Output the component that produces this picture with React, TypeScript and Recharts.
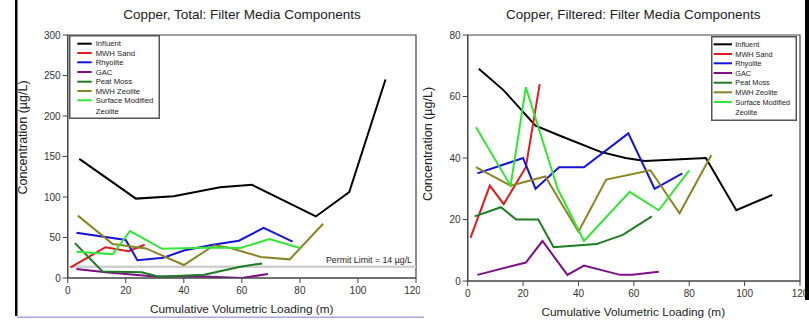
import React from 'react';
import { LineChart, Line, XAxis, YAxis, ReferenceLine, ReferenceArea, Legend } from 'recharts';

const FONT = '"Liberation Sans", Arial, sans-serif';

const X_TICKS = [0, 20, 40, 60, 80, 100, 120];
const TOTAL_Y_TICKS = [0, 50, 100, 150, 200, 250, 300];
const FILTERED_Y_TICKS = [0, 20, 40, 60, 80];

const SERIES_NAMES = ['Influent', 'MWH Sand', 'Rhyolite', 'GAC', 'Peat Moss', 'MWH Zeolite', 'Surface Modified Zeolite'];
const SERIES_COLORS = ['#000000', '#e01b1b', '#1414dc', '#7f0f86', '#1d7d22', '#8a8424', '#33e633'];

const PERMIT_LIMIT = 14;

// Copper, Total
const totalInfluent = [
  { x: 4, y: 147 }, { x: 23.5, y: 98 }, { x: 36.5, y: 101 }, { x: 52.5, y: 112 },
  { x: 63.5, y: 115 }, { x: 85.5, y: 76 }, { x: 97, y: 106 }, { x: 109.5, y: 245 },
];
const totalSand = [{ x: 1, y: 13 }, { x: 13, y: 38 }, { x: 21, y: 33 }, { x: 26.5, y: 41 }];
const totalRhyolite = [
  { x: 3, y: 56 }, { x: 20, y: 47 }, { x: 24, y: 22 }, { x: 33, y: 25 }, { x: 40, y: 34 },
  { x: 50, y: 41 }, { x: 59, y: 46 }, { x: 67.5, y: 62 }, { x: 77.5, y: 45 },
];
const totalGac = [
  { x: 3, y: 11 }, { x: 13, y: 7 }, { x: 30, y: 2 }, { x: 47, y: 2 }, { x: 60, y: 0 }, { x: 69, y: 5 },
];
const totalPeat = [
  { x: 2.5, y: 43 }, { x: 12, y: 8 }, { x: 25.5, y: 7 }, { x: 31.5, y: 1.5 }, { x: 47, y: 4 },
  { x: 59.5, y: 14 }, { x: 67, y: 18 },
];
const totalZeolite = [
  { x: 3.5, y: 77 }, { x: 15.5, y: 42 }, { x: 27, y: 36.5 }, { x: 40, y: 16 }, { x: 50.5, y: 40.5 },
  { x: 56, y: 37 }, { x: 66.5, y: 26 }, { x: 76.5, y: 23 }, { x: 88, y: 67 },
];
const totalSurface = [
  { x: 3, y: 32.5 }, { x: 15.5, y: 29.5 }, { x: 21.5, y: 58 }, { x: 32.5, y: 36 }, { x: 50, y: 37.5 },
  { x: 59.5, y: 37 }, { x: 69.5, y: 48 }, { x: 80, y: 37 },
];

// Copper, Filtered
const filtInfluent = [
  { x: 4, y: 69 }, { x: 13, y: 62 }, { x: 20, y: 55 }, { x: 24.5, y: 50.5 }, { x: 34, y: 47 },
  { x: 48, y: 42 }, { x: 57, y: 40 }, { x: 64, y: 39 }, { x: 86, y: 40 }, { x: 97, y: 23 }, { x: 110, y: 28 },
];
const filtSand = [{ x: 1, y: 14 }, { x: 8, y: 31 }, { x: 13, y: 25 }, { x: 21, y: 37 }, { x: 26, y: 64 }];
const filtRhyolite = [
  { x: 3.5, y: 35 }, { x: 20, y: 40 }, { x: 24.5, y: 30 }, { x: 33, y: 37 }, { x: 42, y: 37 },
  { x: 58, y: 48 }, { x: 67.5, y: 30 }, { x: 77.5, y: 35 },
];
const filtGac = [
  { x: 3.5, y: 2 }, { x: 21, y: 6 }, { x: 27, y: 13 }, { x: 36, y: 2 }, { x: 42, y: 5 },
  { x: 55, y: 2 }, { x: 59.5, y: 2 }, { x: 69, y: 3 },
];
const filtPeat = [
  { x: 2.5, y: 21 }, { x: 12, y: 24 }, { x: 17.5, y: 20 }, { x: 25.5, y: 20 }, { x: 31, y: 11 },
  { x: 46.5, y: 12 }, { x: 56, y: 15 }, { x: 66.5, y: 21 },
];
const filtZeolite = [
  { x: 3, y: 37 }, { x: 15.5, y: 31 }, { x: 28, y: 34 }, { x: 40, y: 16 }, { x: 50, y: 33 },
  { x: 66, y: 36 }, { x: 76.5, y: 22 }, { x: 88, y: 41 },
];
const filtSurface = [
  { x: 3, y: 50 }, { x: 15.5, y: 31 }, { x: 21, y: 63 }, { x: 32.5, y: 30 }, { x: 42, y: 13 },
  { x: 58.5, y: 29 }, { x: 69, y: 23 }, { x: 80, y: 36 },
];

const TOTAL_SERIES = [totalInfluent, totalSand, totalRhyolite, totalGac, totalPeat, totalZeolite, totalSurface];
const FILTERED_SERIES = [filtInfluent, filtSand, filtRhyolite, filtGac, filtPeat, filtZeolite, filtSurface];

type LegendCfg = {
  width: number; height: number; lineX1: number; lineX2: number; textX: number;
  rows: number[]; wrapY: number; fontSize: number;
};

const makeLegend = (cfg: LegendCfg) => (props: any) => {
  const payload: any[] = (props && props.payload) || [];
  const items = SERIES_NAMES.map((n, i) => {
    const found = payload.find((p: any) => String(p.value) === n);
    return { value: n, color: (found && found.color) || SERIES_COLORS[i] };
  });
  return (
    <svg width={cfg.width} height={cfg.height} style={{ display: 'block' }}>
      <rect x={0.75} y={0.75} width={cfg.width - 1.5} height={cfg.height - 1.5} fill="#fff" stroke="#555" strokeWidth={1.5} />
      {items.map((p, i) => {
        const y = cfg.rows[i];
        const wrap = p.value === 'Surface Modified Zeolite';
        return (
          <g key={p.value}>
            <line x1={cfg.lineX1} x2={cfg.lineX2} y1={y} y2={y} stroke={p.color} strokeWidth={2} />
            <text x={cfg.textX} y={y} dominantBaseline="central" fontSize={cfg.fontSize} fontFamily={FONT} fill="#222">
              {wrap ? 'Surface Modified' : p.value}
            </text>
            {wrap && (
              <text x={cfg.textX} y={cfg.wrapY} dominantBaseline="central" fontSize={cfg.fontSize} fontFamily={FONT} fill="#222">
                Zeolite
              </text>
            )}
          </g>
        );
      })}
    </svg>
  );
};

const leftLegend = makeLegend({
  width: 91, height: 84, lineX1: 8.3, lineX2: 22.7, textX: 26.7,
  rows: [8.7, 18, 27.3, 37, 46.7, 56, 65.3], wrapY: 76, fontSize: 7.7,
});
const rightLegend = makeLegend({
  width: 86, height: 85, lineX1: 2.6, lineX2: 21, textX: 24.3,
  rows: [8.3, 18, 27.3, 37, 46.7, 56.3, 66], wrapY: 76.3, fontSize: 7.3,
});

const tickStyle = { fontSize: 10, fill: '#333', fontFamily: FONT };
const AXIS_COLOR = '#444';

export default function App() {
  return (
    <div style={{ position: 'absolute', left: 0, top: 0, width: 809, height: 320, background: '#fff', overflow: 'hidden', fontFamily: FONT }}>
      {/* Left panel: Copper, Total */}
      <div style={{ position: 'absolute', left: 0, top: 0 }}>
        <LineChart width={420} height={320} margin={{ top: 35, right: 4, bottom: 12, left: 17.7 }}>
          <XAxis
            type="number" dataKey="x" domain={[0, 120]} ticks={X_TICKS} allowDataOverflow
            height={30} tickSize={5} tickMargin={4} tick={tickStyle}
            stroke={AXIS_COLOR} axisLine={{ stroke: AXIS_COLOR, strokeWidth: 1.2 }}
          />
          <YAxis
            type="number" domain={[0, 300]} ticks={TOTAL_Y_TICKS} allowDataOverflow
            width={50} tickSize={5} tickMargin={2} tick={tickStyle}
            stroke={AXIS_COLOR} axisLine={{ stroke: AXIS_COLOR, strokeWidth: 1.2 }}
          />
          <ReferenceArea x1={0} x2={120} y1={0} y2={300} fill="none" fillOpacity={0} stroke={AXIS_COLOR} strokeWidth={1.2} />
          <ReferenceLine
            y={PERMIT_LIMIT} stroke="#cfcfcf" strokeWidth={2.5}
            label={{ value: 'Permit Limit = 14 µg/L', position: 'insideBottomRight', offset: 4, fontSize: 8.8, fill: '#222', fontFamily: FONT }}
          />
          {TOTAL_SERIES.map((d, i) => (
            <Line
              key={SERIES_NAMES[i]} data={d} dataKey="y" name={SERIES_NAMES[i]} type="linear"
              stroke={SERIES_COLORS[i]} strokeWidth={2} dot={false} activeDot={false} isAnimationActive={false}
            />
          ))}
          <Legend
            layout="horizontal" verticalAlign="middle" align="center"
            wrapperStyle={{ left: 69, top: 35, width: 91, height: 84 }}
            content={leftLegend}
          />
        </LineChart>
      </div>

      {/* Right panel: Copper, Filtered */}
      <div style={{ position: 'absolute', left: 420, top: 0 }}>
        <LineChart width={389} height={320} margin={{ top: 35, right: 9, bottom: 9, left: 7.7 }}>
          <XAxis
            type="number" dataKey="x" domain={[0, 120]} ticks={X_TICKS} allowDataOverflow
            height={30} tickSize={5} tickMargin={4} tick={tickStyle}
            stroke={AXIS_COLOR} axisLine={{ stroke: AXIS_COLOR, strokeWidth: 1.2 }}
          />
          <YAxis
            type="number" domain={[0, 80]} ticks={FILTERED_Y_TICKS} allowDataOverflow
            width={40} tickSize={5} tickMargin={2} tick={tickStyle}
            stroke={AXIS_COLOR} axisLine={{ stroke: AXIS_COLOR, strokeWidth: 1.2 }}
          />
          <ReferenceArea x1={0} x2={120} y1={0} y2={80} fill="none" fillOpacity={0} stroke={AXIS_COLOR} strokeWidth={1.2} />
          {FILTERED_SERIES.map((d, i) => (
            <Line
              key={SERIES_NAMES[i]} data={d} dataKey="y" name={SERIES_NAMES[i]} type="linear"
              stroke={SERIES_COLORS[i]} strokeWidth={2} dot={false} activeDot={false} isAnimationActive={false}
            />
          ))}
          <Legend
            layout="horizontal" verticalAlign="middle" align="center"
            wrapperStyle={{ left: 290.7, top: 36, width: 86, height: 85 }}
            content={rightLegend}
          />
        </LineChart>
      </div>

      {/* Titles and axis titles */}
      <svg width={809} height={320} style={{ position: 'absolute', left: 0, top: 0, pointerEvents: 'none' }}>
        <text x={242} y={19} textAnchor="middle" fontSize={13.5} fontFamily={FONT} fill="#222">
          Copper, Total: Filter Media Components
        </text>
        <text x={633.3} y={19} textAnchor="middle" fontSize={13.5} fontFamily={FONT} fill="#222">
          Copper, Filtered: Filter Media Components
        </text>
        <text x={241.7} y={312.5} textAnchor="middle" fontSize={11.8} fontFamily={FONT} fill="#222">
          Cumulative Volumetric Loading (m)
        </text>
        <text x={633.3} y={315.5} textAnchor="middle" fontSize={11.8} fontFamily={FONT} fill="#222">
          Cumulative Volumetric Loading (m)
        </text>
        <text x={22.7} y={137.5} textAnchor="middle" dominantBaseline="central" fontSize={12.5}
          fontFamily={FONT} fill="#222" transform="rotate(-90 22.7 137.5)">
          Concentration (µg/L)
        </text>
        <text x={428.3} y={144} textAnchor="middle" dominantBaseline="central" fontSize={12.5}
          fontFamily={FONT} fill="#222" transform="rotate(-90 428.3 144)">
          Concentration (µg/L)
        </text>
        {/* frame decorations of the original scan */}
        <rect x={15} y={0} width={2.5} height={316} fill="#000" />
        <rect x={17} y={316.5} width={407} height={1.5} fill="#a9a6e6" />
        <rect x={805} y={0} width={4} height={300} fill="#000" />
      </svg>
    </div>
  );
}
